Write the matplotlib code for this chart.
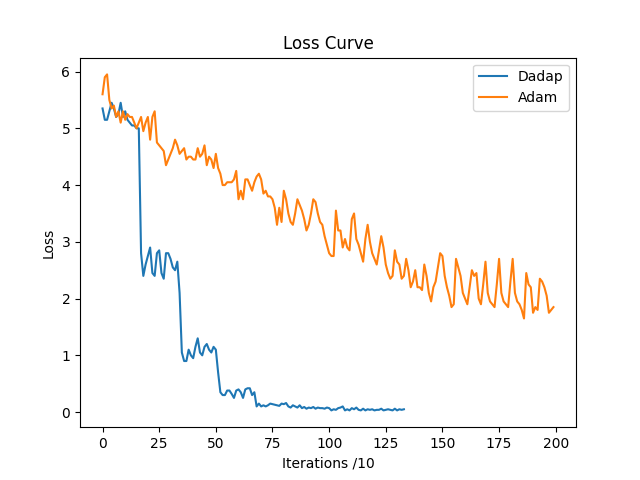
import matplotlib
matplotlib.use('Agg')
import matplotlib.pyplot as plt

# Dadap loss, 134 points
dadap_loss = [
    5.35, 5.15, 5.15, 5.30, 5.45, 5.35, 5.20, 5.25, 5.45, 5.20,
    5.30, 5.15, 5.10, 5.05, 5.05, 5.00, 5.00, 2.80, 2.40, 2.60,
    2.75, 2.90, 2.45, 2.40, 2.80, 2.85, 2.45, 2.35, 2.80, 2.80,
    2.70, 2.55, 2.50, 2.65, 2.10, 1.05, 0.90, 0.90, 1.10, 1.00,
    0.95, 1.15, 1.30, 1.05, 1.00, 1.15, 1.20, 1.10, 1.05, 1.15,
    1.10, 0.70, 0.35, 0.30, 0.30, 0.38, 0.38, 0.32, 0.25, 0.38,
    0.40, 0.35, 0.25, 0.40, 0.42, 0.42, 0.30, 0.35, 0.10, 0.15,
    0.10, 0.12, 0.10, 0.12, 0.15, 0.14, 0.13, 0.12, 0.11, 0.15,
    0.14, 0.16, 0.10, 0.08, 0.12, 0.10, 0.08, 0.12, 0.07, 0.09,
    0.06, 0.08, 0.07, 0.09, 0.06, 0.08, 0.07, 0.07, 0.06, 0.08,
    0.07, 0.03, 0.05, 0.04, 0.07, 0.08, 0.10, 0.03, 0.05, 0.03,
    0.07, 0.05, 0.08, 0.04, 0.03, 0.06, 0.03, 0.05, 0.04, 0.05,
    0.03, 0.04, 0.04, 0.06, 0.03, 0.04, 0.05, 0.04, 0.03, 0.06,
    0.03, 0.05, 0.04, 0.05,
]

# Adam loss, 200 points
adam_loss = [
    5.60, 5.90, 5.95, 5.50, 5.35, 5.40, 5.20, 5.30, 5.10, 5.30,
    5.15, 5.25, 5.20, 5.20, 5.10, 5.00, 5.10, 5.20, 4.95, 5.10,
    5.20, 4.80, 5.20, 5.30, 4.75, 4.70, 4.65, 4.60, 4.35, 4.45,
    4.55, 4.65, 4.80, 4.70, 4.55, 4.60, 4.65, 4.45, 4.50, 4.50,
    4.45, 4.45, 4.65, 4.50, 4.55, 4.70, 4.35, 4.50, 4.45, 4.30,
    4.55, 4.30, 4.20, 4.00, 4.00, 4.05, 4.05, 4.05, 4.10, 4.25,
    3.75, 3.90, 3.75, 4.10, 4.10, 4.00, 3.90, 4.05, 4.15, 4.20,
    4.10, 3.85, 3.90, 3.80, 3.80, 3.75, 3.60, 3.30, 3.60, 3.35,
    3.90, 3.75, 3.50, 3.35, 3.30, 3.50, 3.75, 3.65, 3.55, 3.40,
    3.20, 3.30, 3.50, 3.75, 3.70, 3.50, 3.35, 3.30, 3.10, 2.95,
    2.80, 2.75, 2.75, 3.55, 3.20, 3.20, 2.90, 3.05, 2.90, 2.85,
    3.40, 3.50, 3.05, 2.95, 2.80, 2.65, 3.05, 3.30, 3.00, 2.80,
    2.70, 2.60, 2.85, 3.10, 2.90, 2.60, 2.45, 2.35, 2.40, 2.85,
    2.65, 2.60, 2.35, 2.40, 2.70, 2.50, 2.20, 2.30, 2.50, 2.20,
    2.20, 2.15, 2.60, 2.40, 2.10, 1.95, 2.20, 2.30, 2.55, 2.80,
    2.75, 2.40, 2.20, 2.05, 1.85, 1.90, 2.70, 2.55, 2.40, 2.10,
    2.00, 1.90, 2.20, 2.50, 2.40, 2.45, 2.00, 1.90, 2.25, 2.65,
    2.10, 1.95, 1.90, 1.85, 2.25, 2.70, 2.10, 1.95, 1.90, 1.85,
    2.30, 2.70, 2.10, 1.95, 1.90, 1.80, 1.65, 2.45, 2.25, 2.20,
    1.75, 1.85, 1.80, 2.35, 2.30, 2.20, 2.05, 1.75, 1.80, 1.85,
]

fig, ax = plt.subplots(figsize=(6.4, 4.8), dpi=100)
ax.plot(range(len(dadap_loss)), dadap_loss, label='Dadap')
ax.plot(range(len(adam_loss)), adam_loss, label='Adam')
ax.set_title('Loss Curve')
ax.set_xlabel('Iterations /10')
ax.set_ylabel('Loss')
ax.legend()
fig.savefig('out.png')
